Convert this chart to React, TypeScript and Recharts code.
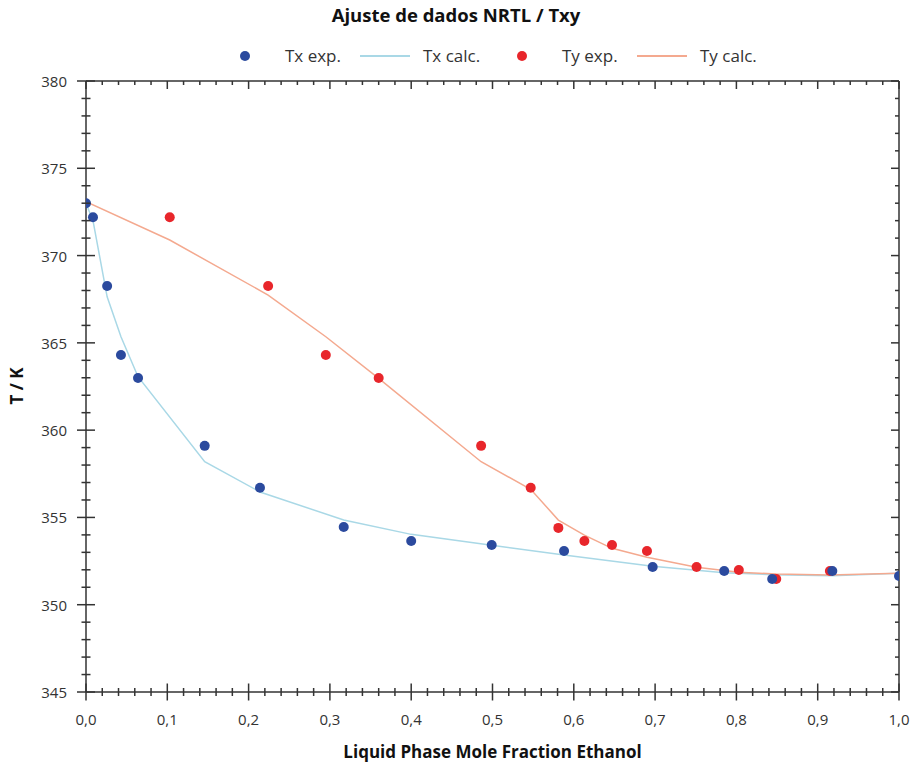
import { ComposedChart, Line, Scatter, XAxis, YAxis } from 'recharts'

// experimental liquid phase (Tx) and vapour phase (Ty) points
const txExpX = [0, 0.0086, 0.026, 0.043, 0.064, 0.146, 0.214, 0.317, 0.4, 0.499, 0.588, 0.697, 0.785, 0.844, 0.918, 1.0]
const txExpT = [373.0, 372.2, 368.26, 364.3, 362.99, 359.1, 356.7, 354.45, 353.65, 353.42, 353.08, 352.16, 351.93, 351.47, 351.93, 351.64]

const tyExpX = [0.103, 0.224, 0.295, 0.36, 0.486, 0.547, 0.581, 0.613, 0.647, 0.69, 0.751, 0.803, 0.849, 0.915]
const tyExpT = [372.2, 368.26, 364.3, 362.99, 359.1, 356.7, 354.4, 353.65, 353.42, 353.08, 352.16, 351.99, 351.47, 351.93]

// NRTL fitted curves
const txCalcX = [0, 0.0086, 0.026, 0.043, 0.064, 0.146, 0.214, 0.317, 0.4, 0.499, 0.588, 0.697, 0.785, 0.844, 0.918, 1.0]
const txCalcT = [373.0, 372.0, 367.64, 365.35, 363.06, 358.19, 356.46, 354.85, 354.03, 353.4, 352.85, 352.2, 351.83, 351.72, 351.66, 351.8]

const tyCalcX = [0, 0.103, 0.224, 0.295, 0.36, 0.486, 0.547, 0.581, 0.613, 0.647, 0.69, 0.751, 0.803, 0.849, 0.915, 1.0]
const tyCalcT = [373.09, 370.89, 367.74, 365.35, 362.97, 358.19, 356.61, 354.85, 353.99, 353.23, 352.72, 352.14, 351.86, 351.76, 351.7, 351.8]

const xMajorTicks = [0, 0.1, 0.2, 0.3, 0.4, 0.5, 0.6, 0.7, 0.8, 0.9, 1.0]
const xTickLabels = ['0,0', '0,1', '0,2', '0,3', '0,4', '0,5', '0,6', '0,7', '0,8', '0,9', '1,0']
const yMajorTicks = [345, 350, 355, 360, 365, 370, 375, 380]
const yTickLabels = ['345', '350', '355', '360', '365', '370', '375', '380']

const toPoints = (xs: number[], ts: number[]) => xs.map((x, i) => ({ x, T: ts[i] }))
const txExp = toPoints(txExpX, txExpT)
const tyExp = toPoints(tyExpX, tyExpT)
const txCalc = toPoints(txCalcX, txCalcT)
const tyCalc = toPoints(tyCalcX, tyCalcT)

// 4 minor ticks between majors
const subdivide = (majors: number[]) => {
  const out: number[] = []
  for (let i = 0; i < majors.length - 1; i++) {
    const step = (majors[i + 1] - majors[i]) / 5
    for (let k = 0; k < 5; k++) out.push(+(majors[i] + k * step).toFixed(4))
  }
  out.push(majors[majors.length - 1])
  return out
}
const xTicks = subdivide(xMajorTicks)
const yTicks = subdivide(yMajorTicks)

const majorIndex = (majors: number[], v: number) => majors.findIndex((m) => Math.abs(m - v) < 1e-6)

const AXIS = '#333'
const TEXT = '#333'
const FONT = '"Open Sans", sans-serif'

function BottomTick(p: any) {
  const i = majorIndex(xMajorTicks, p.payload.value)
  const h = i >= 0 ? 8.5 : 4
  return (
    <g>
      <line x1={p.x} x2={p.x} y1={p.y - h} y2={p.y + h} stroke={AXIS} strokeWidth={1.5} />
      {i >= 0 && (
        <text x={p.x} y={p.y + 27} textAnchor="middle" dominantBaseline="central" fontSize={15} fill={TEXT} fontFamily={FONT}>
          {xTickLabels[i]}
        </text>
      )}
    </g>
  )
}

function TopTick(p: any) {
  const i = majorIndex(xMajorTicks, p.payload.value)
  return <line x1={p.x} x2={p.x} y1={p.y} y2={p.y + (i >= 0 ? 8 : 4)} stroke={AXIS} strokeWidth={1.5} />
}

function LeftTick(p: any) {
  const i = majorIndex(yMajorTicks, p.payload.value)
  const w = i >= 0 ? 9 : 4.5
  return (
    <g>
      <line x1={p.x - w} x2={p.x + w} y1={p.y} y2={p.y} stroke={AXIS} strokeWidth={1.5} />
      {i >= 0 && (
        <text x={p.x - 19} y={p.y} textAnchor="end" dominantBaseline="central" fontSize={15} fill={TEXT} fontFamily={FONT}>
          {yTickLabels[i]}
        </text>
      )}
    </g>
  )
}

function RightTick(p: any) {
  const i = majorIndex(yMajorTicks, p.payload.value)
  return <line x1={p.x - (i >= 0 ? 8 : 4)} x2={p.x} y1={p.y} y2={p.y} stroke={AXIS} strokeWidth={1.5} />
}

const dot = (color: string) => (p: any) => <circle cx={p.cx} cy={p.cy} r={5} fill={color} />

const BLUE = '#2b4a9e'
const RED = '#e8262b'
const LIGHTBLUE = '#a9d8e6'
const SALMON = '#f4a98f'

const legendItems = [
  { label: 'Tx exp.', kind: 'dot', color: BLUE, iconX: 245, textX: 285 },
  { label: 'Tx calc.', kind: 'line', color: LIGHTBLUE, iconX: 360, textX: 423 },
  { label: 'Ty exp.', kind: 'dot', color: RED, iconX: 522, textX: 562 },
  { label: 'Ty calc.', kind: 'line', color: SALMON, iconX: 637, textX: 700 },
]

export default function App() {
  return (
    <div style={{ position: 'absolute', left: 0, top: 0, width: 912, height: 767, background: '#fff', fontFamily: FONT }}>
      <div style={{ position: 'absolute', left: 0, top: 3, width: 912, textAlign: 'center', fontSize: 18.5, fontWeight: 700, lineHeight: '24px', color: '#111' }}>
        Ajuste de dados NRTL / Txy
      </div>
      {legendItems.map((it) => (
        <div key={it.label}>
          {it.kind === 'dot' ? (
            <div style={{ position: 'absolute', left: it.iconX - 5, top: 51, width: 10, height: 10, borderRadius: 5, background: it.color }} />
          ) : (
            <div style={{ position: 'absolute', left: it.iconX, top: 55, width: 50, height: 1.5, background: it.color }} />
          )}
          <div style={{ position: 'absolute', left: it.textX, top: 44, fontSize: 17, lineHeight: '24px', color: TEXT, whiteSpace: 'nowrap' }}>
            {it.label}
          </div>
        </div>
      ))}
      <ComposedChart width={912} height={767} margin={{ top: 71, right: 3, bottom: 45, left: 56 }}>
        <XAxis xAxisId="b" type="number" dataKey="x" domain={[0, 1]} ticks={xTicks} interval={0} height={30} tickSize={0} tickMargin={0} tick={BottomTick} tickLine={false} axisLine={{ stroke: AXIS, strokeWidth: 1.5 }} allowDataOverflow />
        <XAxis xAxisId="t" orientation="top" type="number" dataKey="x" domain={[0, 1]} ticks={xTicks} interval={0} height={10} tickSize={0} tickMargin={0} tick={TopTick} tickLine={false} axisLine={{ stroke: AXIS, strokeWidth: 1.5 }} allowDataOverflow />
        <YAxis yAxisId="l" type="number" dataKey="T" domain={[345, 380]} ticks={yTicks} interval={0} width={30} tickSize={0} tickMargin={0} tick={LeftTick} tickLine={false} axisLine={{ stroke: AXIS, strokeWidth: 1.5 }} allowDataOverflow />
        <YAxis yAxisId="r" orientation="right" type="number" dataKey="T" domain={[345, 380]} ticks={yTicks} interval={0} width={10} tickSize={0} tickMargin={0} tick={RightTick} tickLine={false} axisLine={{ stroke: AXIS, strokeWidth: 1.5 }} allowDataOverflow />
        <Line xAxisId="b" yAxisId="l" data={txCalc} dataKey="T" type="linear" stroke={LIGHTBLUE} strokeWidth={1.5} dot={false} activeDot={false} isAnimationActive={false} />
        <Line xAxisId="b" yAxisId="l" data={tyCalc} dataKey="T" type="linear" stroke={SALMON} strokeWidth={1.5} dot={false} activeDot={false} isAnimationActive={false} />
        <Scatter xAxisId="b" yAxisId="l" data={tyExp} dataKey="T" fill={RED} shape={dot(RED)} isAnimationActive={false} />
        <Scatter xAxisId="b" yAxisId="l" data={txExp} dataKey="T" fill={BLUE} shape={dot(BLUE)} isAnimationActive={false} />
      </ComposedChart>
      <div style={{ position: 'absolute', left: 86, width: 813, top: 740, textAlign: 'center', fontSize: 17, fontWeight: 700, lineHeight: '24px', color: '#111' }}>
        Liquid Phase Mole Fraction Ethanol
      </div>
      <div style={{ position: 'absolute', left: 17 - 40, top: 386 - 12, width: 80, textAlign: 'center', fontSize: 17, fontWeight: 700, lineHeight: '24px', color: '#111', transform: 'rotate(-90deg)' }}>
        T / K
      </div>
    </div>
  )
}
